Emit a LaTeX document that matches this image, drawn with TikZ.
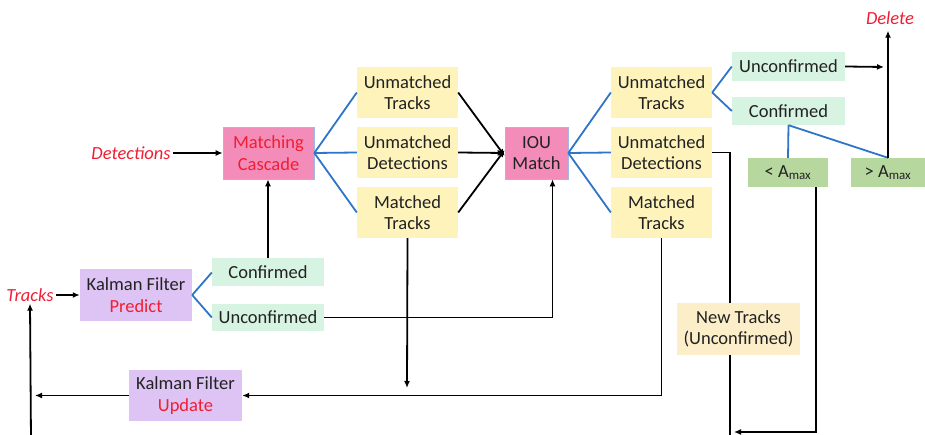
\documentclass[tikz,border=0pt]{standalone}
\usepackage{fontspec}
\setmainfont{Carlito}
\usetikzlibrary{arrows.meta,positioning}

\definecolor{pinkfill}{RGB}{244,140,185}
\definecolor{pinkline}{RGB}{160,185,230}
\definecolor{yellowfill}{RGB}{253,243,187}
\definecolor{mintfill}{RGB}{215,243,225}
\definecolor{greenfill}{RGB}{182,216,158}
\definecolor{purplefill}{RGB}{222,196,244}
\definecolor{newfill}{RGB}{252,238,200}
\definecolor{redtext}{RGB}{240,30,50}
\definecolor{darktext}{RGB}{34,34,34}
\definecolor{branchblue}{RGB}{46,117,200}

\begin{document}
\begin{tikzpicture}[x=1pt,y=-1pt,
        box/.style={inner sep=0pt, align=center, text=darktext,
        font=\fontsize{18.5}{21.7}\selectfont},
        pink node/.style={box, fill=pinkfill, draw=pinkline, line width=0.6pt,
        minimum width=63, minimum height=52},
        yellow node/.style={box, fill=yellowfill, minimum width=101, minimum height=51},
        mint node/.style={box, fill=mintfill, minimum width=112, minimum height=28},
        green node/.style={box, fill=greenfill, minimum height=29},
        purple node/.style={box, fill=purplefill, minimum width=112, minimum height=51},
        red label/.style={inner sep=2pt, text=redtext,
        font=\fontsize{18.5}{21.7}\selectfont\itshape},
        arr/.style={-{Latex[length=7pt,width=6pt]}, line width=1.8pt, black},
        link/.style={line width=1.8pt, black},
        branch/.style={line width=1.8pt, branchblue}
        ]

        \useasboundingbox (0,0) rectangle (925,435);

        % left part
        \node [red label] (det) at (131,153) {Detections};
        \node [pink node, minimum width=91, text=redtext] (cascade) at (268.5,153) {Matching\\Cascade};
        \node [red label] (tracks) at (30,295) {Tracks};
        \node [purple node] (pred) at (136,295) {Kalman Filter\\\textcolor{redtext}{Predict}};
        \node [mint node] (cf1) at (268,272.5) {Confirmed};
        \node [mint node, minimum height=27] (uc1) at (268,317.5) {Unconfirmed};
        \node [purple node, minimum width=113] (upd) at (185.5,395.5) {Kalman Filter\\\textcolor{redtext}{Update}};

        % first matching
        \node [yellow node] (ut1) at (407.5,92.5) {Unmatched\\Tracks};
        \node [yellow node] (ud1) at (407.5,152.5) {Unmatched\\Detections};
        \node [yellow node] (mt1) at (407.5,212.5) {Matched\\Tracks};
        \node [pink node] (iou) at (536.5,153) {IOU\\Match};

        % second matching
        \node [yellow node] (ut2) at (661.5,92.5) {Unmatched\\Tracks};
        \node [yellow node] (ud2) at (661.5,152.5) {Unmatched\\Detections};
        \node [yellow node] (mt2) at (661.5,212.5) {Matched\\Tracks};
        \node [mint node, minimum width=113, minimum height=29] (uc2) at (788.5,66.5) {Unconfirmed};
        \node [mint node, minimum width=113] (cf2) at (788.5,111) {Confirmed};
        \node [green node, minimum width=80] (lt) at (788,172.5) {< A\textsubscript{max}};
        \node [green node, minimum width=74] (gt) at (888,172.5) {> A\textsubscript{max}};
        \node [red label] (delete) at (890,18) {Delete};

        \coordinate (deljoin) at (884,67);
        \coordinate (drop) at (730,440);
        \coordinate (turn) at (816,432);
        \coordinate (join) at (407,388);
        \coordinate (back) at (35,395.5);
        \coordinate (loop) at (31,440);

        % lines behind the new tracks box
        \draw [link] (ud2.east) -| (drop);
        \draw [arr, shorten >=4pt] (lt.south -| turn) -- (turn) -- (turn -| drop);

        \node [box, fill=newfill, minimum width=123, minimum height=52] (newt) at (738.5,329) {New Tracks\\(Unconfirmed)};

        \path [branch]
        (cascade.east) edge (ut1.west)
        (cascade.east) edge (ud1.west)
        (cascade.east) edge (mt1.west)
        (iou.east) edge (ut2.west)
        (iou.east) edge (ud2.west)
        (iou.east) edge (mt2.west)
        (ut2.east) edge (uc2.west)
        (ut2.east) edge (cf2.west)
        (cf2.south) edge (lt.north)
        (cf2.south) edge (gt.north)
        (pred.east) edge (cf1.west)
        (pred.east) edge (uc1.west)
        ;

        \draw [arr] (det) -- (cascade);
        \draw [arr] (tracks) -- (pred);
        \draw [arr] (cf1.north) -- (cf1.north |- cascade.south);
        \draw [arr] (uc1.east) -| ([xshift=16pt]iou.south);
        \draw [arr] (ut1.east) -- ([yshift=-3pt]iou.west);
        \draw [arr] (ud1.east) -- (iou.west);
        \draw [arr] (mt1.east) -- ([yshift=3pt]iou.west);
        \draw [arr] (uc2.east) -- (deljoin);
        \draw [arr, shorten >=4pt] (gt.north) -- (gt.north |- delete.south);
        \draw [arr] (mt1.south) -- (join);
        \draw [arr] (mt2.south) |- (upd.east);
        \draw [arr] (upd.west) -- (back);
        \draw [arr] (loop) -- (tracks.south);
     \end{tikzpicture}
\end{document}
